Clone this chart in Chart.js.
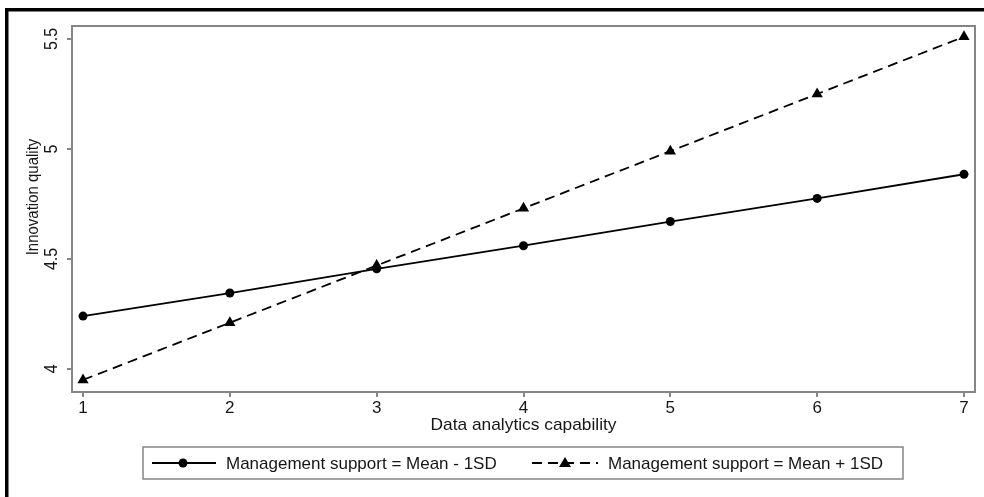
<!DOCTYPE html>
<html>
<head>
<meta charset="utf-8">
<script src="https://cdn.jsdelivr.net/npm/chart.js@4.4.1/dist/chart.umd.min.js"></script>
<style>
  html, body { margin: 0; padding: 0; background: #fff; }
  canvas { display: block; }
</style>
</head>
<body>
<canvas id="chart" width="984" height="497"></canvas>
<script>
// Predicted innovation quality by data analytics capability
const capability = [1, 2, 3, 4, 5, 6, 7];
const meanMinus1SD = [4.24, 4.345, 4.455, 4.56, 4.67, 4.775, 4.885];
const meanPlus1SD = [3.95, 4.21, 4.47, 4.73, 4.99, 5.25, 5.51];
const yTickValues = [4, 4.5, 5, 5.5];
const seriesLabels = ['Management support = Mean - 1SD', 'Management support = Mean + 1SD'];
const xTitle = 'Data analytics capability';
const yTitle = 'Innovation quality';

const FONT = '"Liberation Sans", Arial, Helvetica, sans-serif';
const TEXT = '#161616';
const FRAME = '#858585';
const DASH = [10, 6];

function toPoints(values) {
  return capability.map((x, i) => ({ x: x, y: values[i] }));
}

// centred text; sx widens the glyphs horizontally on screen
function text(ctx, str, x, y, size, rot, sx) {
  ctx.save();
  ctx.translate(x, y);
  ctx.scale(sx || 1, 1);
  if (rot) ctx.rotate(rot);
  ctx.font = size + 'px ' + FONT;
  ctx.fillStyle = TEXT;
  ctx.textAlign = 'center';
  ctx.textBaseline = 'middle';
  ctx.fillText(str, 0, 0);
  ctx.restore();
}

const decorations = {
  id: 'decorations',
  afterDraw(chart) {
    const ctx = chart.ctx;
    const a = chart.chartArea;
    const ys = chart.scales.y;

    // plot region frame
    ctx.save();
    ctx.strokeStyle = FRAME;
    ctx.lineWidth = 2;
    ctx.strokeRect(a.left, a.top, a.right - a.left, a.bottom - a.top);
    ctx.restore();

    // outer graph border
    ctx.save();
    ctx.fillStyle = '#000';
    ctx.fillRect(5, 8, 979, 3.5);
    ctx.fillRect(5, 8, 3.5, 489);
    ctx.restore();

    // vertical tick labels on the y axis
    ys.ticks.forEach(t => {
      text(ctx, String(t.value), 52, ys.getPixelForValue(t.value), 16, -Math.PI / 2, 1.15);
    });

    // axis titles
    text(ctx, yTitle, 33, 197, 15, -Math.PI / 2, 1.15);
    text(ctx, xTitle, (a.left + a.right) / 2, 425, 17, 0, 1.02);

    // legend
    const lx = 143, ly = 447, lw = 760, lh = 32, cy = ly + lh / 2;
    ctx.save();
    ctx.strokeStyle = FRAME;
    ctx.lineWidth = 1.5;
    ctx.strokeRect(lx, ly, lw, lh);

    ctx.strokeStyle = '#000';
    ctx.fillStyle = '#000';
    ctx.lineWidth = 2;
    ctx.beginPath();
    ctx.moveTo(152, cy);
    ctx.lineTo(216, cy);
    ctx.stroke();
    ctx.beginPath();
    ctx.arc(183, cy, 4.5, 0, Math.PI * 2);
    ctx.fill();

    ctx.setLineDash(DASH);
    ctx.beginPath();
    ctx.moveTo(532, cy);
    ctx.lineTo(598, cy);
    ctx.stroke();
    ctx.setLineDash([]);
    ctx.beginPath();
    ctx.moveTo(565, cy - 6);
    ctx.lineTo(571, cy + 4);
    ctx.lineTo(559, cy + 4);
    ctx.closePath();
    ctx.fill();

    ctx.font = '17px ' + FONT;
    ctx.fillStyle = TEXT;
    ctx.textAlign = 'left';
    ctx.textBaseline = 'middle';
    ctx.fillText(seriesLabels[0], 226, cy + 1);
    ctx.fillText(seriesLabels[1], 608, cy + 1);
    ctx.restore();
  }
};

new Chart(document.getElementById('chart'), {
  type: 'line',
  data: {
    datasets: [
      {
        label: seriesLabels[0],
        data: toPoints(meanMinus1SD),
        borderColor: '#000',
        backgroundColor: '#000',
        borderWidth: 1.8,
        pointStyle: 'circle',
        pointRadius: 4.5,
        pointBorderWidth: 0,
        pointBackgroundColor: '#000',
        tension: 0
      },
      {
        label: seriesLabels[1],
        data: toPoints(meanPlus1SD),
        borderColor: '#000',
        backgroundColor: '#000',
        borderWidth: 1.8,
        borderDash: DASH,
        pointStyle: 'triangle',
        pointRadius: 6.5,
        pointBorderWidth: 0,
        pointBackgroundColor: '#000',
        tension: 0
      }
    ]
  },
  options: {
    responsive: false,
    animation: false,
    devicePixelRatio: 1,
    clip: false,
    layout: { padding: { left: 0, top: 26, right: 9, bottom: 0 } },
    plugins: { legend: { display: false }, tooltip: { enabled: false } },
    scales: {
      x: {
        type: 'linear',
        min: 0.925,
        max: 7.075,
        afterBuildTicks: s => { s.ticks = capability.map(v => ({ value: v })); },
        afterFit: s => { s.height = 105; },
        border: { display: false },
        grid: { drawOnChartArea: false, drawTicks: true, tickLength: 5, color: FRAME, lineWidth: 2 },
        ticks: { color: TEXT, font: { family: FONT, size: 17 }, padding: 1, maxRotation: 0 }
      },
      y: {
        type: 'linear',
        min: 3.895,
        max: 5.559,
        afterBuildTicks: s => { s.ticks = yTickValues.map(v => ({ value: v })); },
        afterFit: s => { s.width = 72; },
        border: { display: false },
        grid: { drawOnChartArea: false, drawTicks: true, tickLength: 5, color: FRAME, lineWidth: 2 },
        ticks: { display: false }
      }
    }
  },
  plugins: [decorations]
});
</script>
</body>
</html>
